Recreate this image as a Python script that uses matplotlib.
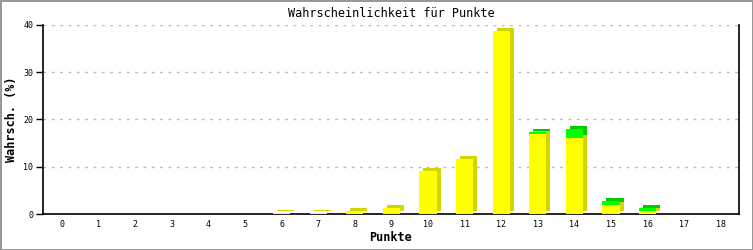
import numpy as np
import matplotlib
matplotlib.use('Agg')
import matplotlib.pyplot as plt
from matplotlib.transforms import ScaledTranslation

# Punkte 0..18, probability split in two stacked parts (%)
punkte = list(range(19))
gelb = [0, 0, 0, 0, 0, 0, 0.25, 0.2, 0.6, 1.3, 9.0, 11.6, 38.7, 16.9, 16.1, 1.8, 0.6, 0, 0]
gruen = [0, 0, 0, 0, 0, 0, 0, 0, 0, 0, 0, 0, 0, 0.4, 1.9, 0.85, 0.6, 0, 0]
y_ticks = [0, 10, 20, 30, 40]

mono = 'DejaVu Sans Mono'
fig = plt.figure(figsize=(7.53, 2.5), dpi=100)
fig.patch.set_edgecolor('#999999')
fig.patch.set_linewidth(2)
ax = fig.add_axes([43 / 753, 36 / 250, 696 / 753, 189 / 250])

x = np.array(punkte)
g1 = np.array(gelb)
g2 = np.array(gruen)
w = 0.47

# shadow (side + top face), shifted right and up
shift = ax.transData + ScaledTranslation(4 / 100, 3 / 100, fig.dpi_scale_trans)
ax.bar(x, g1, width=w, color='#d4d400', linewidth=0, transform=shift, zorder=2)
ax.bar(x, g2, bottom=g1, width=w, color='#00cc00', linewidth=0, transform=shift, zorder=2)
# front faces
ax.bar(x, g1, width=w, color='#ffff00', linewidth=0, zorder=3)
ax.bar(x, g2, bottom=g1, width=w, color='#00ff00', linewidth=0, zorder=3)

ax.set_xlim(-0.52, 18.5)
ax.set_ylim(0, 40)
ax.set_yticks(y_ticks)
ax.set_xticks(punkte)
ax.set_xticklabels([str(p) for p in punkte], fontsize=6, family=mono)
ax.set_yticklabels([str(t) for t in y_ticks], fontsize=6, family=mono)
ax.tick_params(axis='x', length=0, pad=4)
ax.tick_params(axis='y', length=5, width=1, direction='out', pad=2)

ax.yaxis.grid(True, linestyle=(0, (2, 4)), color='#bbbbbb', linewidth=1)
ax.set_axisbelow(True)
ax.spines['top'].set_visible(False)
for s in ['left', 'bottom', 'right']:
    ax.spines[s].set_color('black')
    ax.spines[s].set_linewidth(1.2)

ax.set_title('Wahrscheinlichkeit für Punkte', family=mono, fontsize=8.5, pad=6)
ax.set_xlabel('Punkte', family=mono, fontsize=8.5, fontweight='bold', labelpad=2)
ax.set_ylabel('Wahrsch. (%)', family=mono, fontsize=8.5, fontweight='bold', labelpad=4)

fig.savefig('out.png', dpi=100, edgecolor=fig.get_edgecolor())
